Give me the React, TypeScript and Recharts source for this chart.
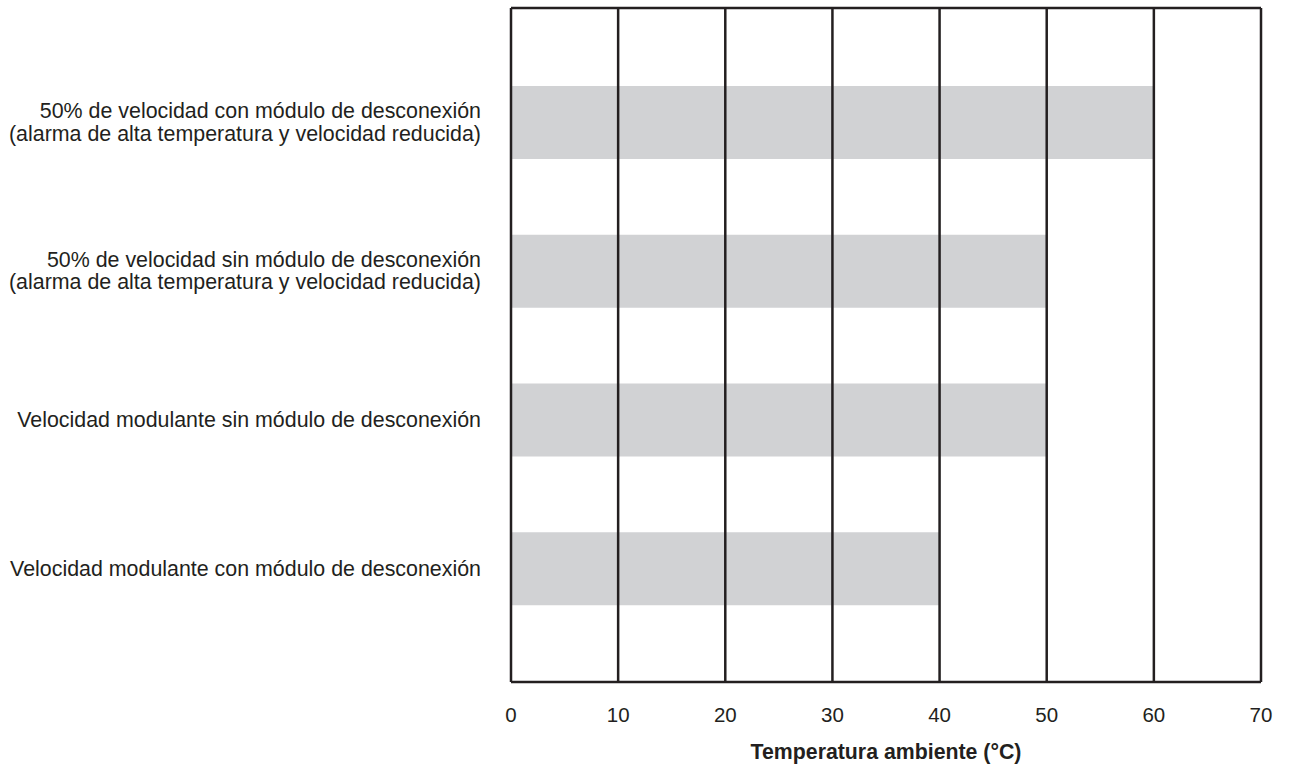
import { BarChart, Bar, XAxis, YAxis, CartesianGrid, ReferenceLine } from 'recharts'

const categories = [
  '50% de velocidad con módulo de desconexión\n(alarma de alta temperatura y velocidad reducida)',
  '50% de velocidad sin módulo de desconexión\n(alarma de alta temperatura y velocidad reducida)',
  'Velocidad modulante sin módulo de desconexión',
  'Velocidad modulante con módulo de desconexión',
]
const maxTemp = [60, 50, 50, 40]
const xTicks = [0, 10, 20, 30, 40, 50, 60, 70]
const xTitle = 'Temperatura ambiente (°C)'

const INK = '#231f20'
const FONT = '"Liberation Sans", Arial, sans-serif'

const data = categories.map((name, i) => ({ name, value: maxTemp[i] }))

function YTick({ x, y, payload }: { x?: number; y?: number; payload?: { value: string } }) {
  const lines = String(payload?.value ?? '').split('\n')
  const lineH = 22.5
  const start = -((lines.length - 1) * lineH) / 2
  return (
    <text x={x} y={y} textAnchor="end" fill={INK} fontSize={21.4} fontFamily={FONT}>
      {lines.map((l, i) => (
        <tspan key={i} x={x} dy={i === 0 ? start + 7 : lineH}>
          {l}
        </tspan>
      ))}
    </text>
  )
}

function XTick({ x, y, payload }: { x?: number; y?: number; payload?: { value: number } }) {
  return (
    <text x={x} y={y} dy={7} textAnchor="middle" fill={INK} fontSize={20.5} fontFamily={FONT}>
      {payload?.value}
    </text>
  )
}

export default function App() {
  return (
    <div style={{ position: 'absolute', left: 0, top: 0, background: '#fff' }}>
      <BarChart
        width={1292}
        height={769}
        data={data}
        layout="vertical"
        margin={{ top: 8, right: 31, bottom: 0, left: 0 }}
      >
        <CartesianGrid
          vertical={false}
          stroke={INK}
          strokeWidth={2.5}
          horizontalCoordinatesGenerator={({ offset }: any) => [offset.top, offset.top + offset.height]}
        />
        <XAxis
          type="number"
          domain={[0, 70]}
          ticks={xTicks}
          axisLine={false}
          tickLine={false}
          tickSize={0}
          tickMargin={33}
          height={87}
          tick={<XTick />}
          label={{
            content: ({ viewBox }: any) => (
              <text
                x={viewBox.x + viewBox.width / 2}
                y={viewBox.y + 77}
                textAnchor="middle"
                fill={INK}
                fontSize={21.3}
                fontWeight="bold"
                fontFamily={FONT}
              >
                {xTitle}
              </text>
            ),
          }}
        />
        <YAxis
          type="category"
          dataKey="name"
          width={511}
          axisLine={false}
          tickLine={false}
          tickSize={0}
          tickMargin={30}
          padding={{ top: 40, bottom: 39 }}
          interval={0}
          tick={<YTick />}
        />
        <Bar dataKey="value" fill="#d1d2d4" barSize={73} isAnimationActive={false} />
        {xTicks.map((t) => (
          <ReferenceLine key={t} x={t} stroke={INK} strokeWidth={2.5} />
        ))}
      </BarChart>
    </div>
  )
}
